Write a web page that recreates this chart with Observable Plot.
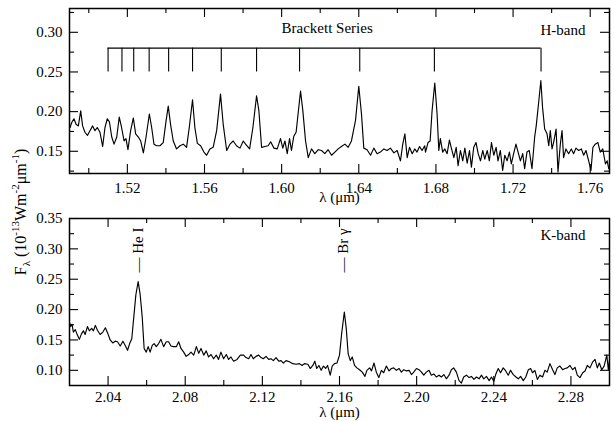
<!DOCTYPE html>
<html><head><meta charset="utf-8">
<script src="https://cdn.jsdelivr.net/npm/d3@7"></script>
<script src="https://cdn.jsdelivr.net/npm/@observablehq/plot@0.6"></script>
<style>
body{margin:0;background:#fff}
#wrap{position:relative;width:614px;height:421px;font-family:'Liberation Serif',serif;background:#fff}
#wrap svg{display:block}
#ylab{position:absolute;left:21px;top:212px;transform:translate(-50%,-50%) rotate(-90deg);white-space:nowrap;font-size:16px;line-height:1}
#ylab sup,#ylab sub{font-size:11px}
</style></head><body>
<div id="wrap"><div id="ylab">F<sub>λ</sub> (10<sup>-13</sup>Wm<sup>-2</sup>μm<sup>-1</sup>)</div></div>
<script>
// H-band spectrum [wavelength µm, flux]
const hSpectrum = [
[1.4903,0.180],[1.4911,0.186],[1.4923,0.191],[1.4934,0.184],[1.4946,0.182],[1.4958,0.201],[1.4968,0.182],[1.4980,0.174],[1.4993,0.170],[1.5006,0.176],
[1.5020,0.182],[1.5032,0.176],[1.5044,0.180],[1.5058,0.174],[1.5072,0.156],[1.5084,0.180],[1.5096,0.191],[1.5107,0.187],[1.5119,0.168],[1.5131,0.159],
[1.5145,0.168],[1.5158,0.193],[1.5170,0.180],[1.5183,0.163],[1.5193,0.166],[1.5203,0.152],[1.5217,0.176],[1.5231,0.192],[1.5243,0.172],[1.5257,0.168],
[1.5269,0.163],[1.5283,0.148],[1.5297,0.168],[1.5314,0.197],[1.5326,0.180],[1.5338,0.159],[1.5352,0.157],[1.5369,0.157],[1.5386,0.161],[1.5400,0.187],
[1.5412,0.207],[1.5424,0.184],[1.5438,0.163],[1.5455,0.153],[1.5473,0.157],[1.5490,0.159],[1.5507,0.155],[1.5521,0.180],[1.5538,0.215],[1.5550,0.180],
[1.5563,0.160],[1.5580,0.157],[1.5597,0.149],[1.5611,0.145],[1.5628,0.153],[1.5645,0.155],[1.5663,0.176],[1.5683,0.222],[1.5697,0.184],[1.5715,0.151],
[1.5732,0.159],[1.5749,0.163],[1.5766,0.157],[1.5784,0.154],[1.5801,0.163],
[1.5813,0.159],[1.5834,0.153],[1.5851,0.180],[1.5870,0.220],[1.5882,0.201],[1.5896,0.155],[1.5913,0.156],[1.5930,0.157],[1.5943,0.162],[1.5960,0.154],
[1.5977,0.153],[1.5994,0.166],[1.6006,0.154],[1.6017,0.163],[1.6029,0.147],[1.6041,0.166],[1.6051,0.151],[1.6063,0.169],[1.6075,0.174],[1.6098,0.226],
[1.6110,0.201],[1.6124,0.163],[1.6138,0.142],[1.6155,0.153],[1.6172,0.147],[1.6190,0.152],[1.6207,0.151],[1.6224,0.147],[1.6241,0.152],[1.6259,0.145],
[1.6276,0.149],[1.6293,0.153],[1.6310,0.156],[1.6328,0.159],[1.6345,0.155],[1.6362,0.163],[1.6383,0.189],[1.6400,0.232],[1.6414,0.197],[1.6426,0.154],
[1.6443,0.152],[1.6461,0.145],[1.6478,0.154],[1.6495,0.147],[1.6512,0.149],[1.6530,0.153],[1.6547,0.151],[1.6564,0.154],[1.6582,0.148],[1.6599,0.151],
[1.6616,0.138],[1.6628,0.159],[1.6639,0.172],[1.6651,0.142],[1.6663,0.155],[1.6677,0.147],[1.6690,0.153],[1.6702,0.149],[1.6715,0.156],[1.6728,0.151],
[1.6742,0.157],
[1.6746,0.149],[1.6759,0.161],[1.6770,0.163],[1.6780,0.201],[1.6794,0.236],[1.6806,0.197],[1.6815,0.151],[1.6823,0.166],[1.6835,0.149],[1.6846,0.153],
[1.6858,0.147],[1.6870,0.164],[1.6881,0.153],[1.6893,0.142],[1.6905,0.155],[1.6915,0.132],[1.6927,0.151],[1.6939,0.138],[1.6950,0.154],[1.6962,0.135],
[1.6974,0.151],[1.6984,0.130],[1.6996,0.155],[1.7008,0.161],[1.7019,0.147],[1.7031,0.138],[1.7043,0.151],[1.7053,0.140],[1.7066,0.151],[1.7077,0.138],
[1.7088,0.161],[1.7100,0.145],[1.7112,0.155],[1.7122,0.138],[1.7134,0.151],[1.7146,0.126],[1.7157,0.145],[1.7169,0.138],[1.7181,0.149],[1.7191,0.134],
[1.7203,0.147],[1.7215,0.159],[1.7226,0.149],[1.7238,0.138],[1.7250,0.147],[1.7260,0.128],[1.7272,0.149],[1.7284,0.151],[1.7298,0.128],[1.7312,0.168],
[1.7320,0.182],[1.7332,0.210],[1.7344,0.239],[1.7353,0.205],[1.7364,0.178],[1.7376,0.172],[1.7385,0.157],[1.7393,0.176],[1.7402,0.153],[1.7410,0.161],
[1.7423,0.178],[1.7433,0.124],[1.7445,0.159],[1.7454,0.176],[1.7462,0.142],[1.7474,0.153],[1.7488,0.147],[1.7502,0.153],[1.7514,0.147],[1.7526,0.154],
[1.7540,0.151],[1.7554,0.153],[1.7566,0.145],[1.7578,0.151],[1.7592,0.138],[1.7604,0.126],[1.7614,0.155],[1.7626,0.159],[1.7640,0.161],[1.7652,0.149],
[1.7665,0.153],[1.7679,0.134],[1.7688,0.138],[1.7696,0.128]
];

// K-band spectrum [wavelength µm, flux]
const kSpectrum = [
[2.0199,0.180],[2.0206,0.172],[2.0213,0.176],[2.0220,0.163],[2.0230,0.167],[2.0241,0.158],[2.0251,0.151],[2.0262,0.160],[2.0272,0.165],[2.0281,0.159],
[2.0293,0.172],[2.0303,0.165],[2.0315,0.169],[2.0324,0.165],[2.0334,0.174],[2.0345,0.166],[2.0359,0.159],[2.0373,0.163],[2.0386,0.170],[2.0397,0.162],
[2.0411,0.150],[2.0424,0.145],[2.0437,0.148],[2.0449,0.147],[2.0463,0.140],[2.0477,0.148],[2.0489,0.141],[2.0501,0.133],[2.0512,0.144],[2.0523,0.152],
[2.0532,0.183],[2.0544,0.224],[2.0556,0.246],[2.0566,0.226],[2.0577,0.188],[2.0587,0.136],[2.0598,0.130],[2.0608,0.139],[2.0618,0.130],[2.0629,0.141],
[2.0639,0.144],[2.0650,0.139],[2.0662,0.144],[2.0674,0.151],[2.0688,0.139],[2.0702,0.147],[2.0714,0.147],[2.0726,0.140],[2.0740,0.139],[2.0754,0.139],
[2.0766,0.147],[2.0778,0.136],[2.0792,0.130],[2.0805,0.123],[2.0818,0.126],[2.0830,0.130],[2.0844,0.125],[2.0858,0.139],[2.0870,0.128],[2.0882,0.136],
[2.0896,0.125],[2.0909,0.132],[2.0921,0.122],[2.0934,0.126],[2.0947,0.119],[2.0961,0.125],[2.0973,0.118],[2.0985,0.130],[2.0999,0.119],[2.1013,0.126],
[2.1025,0.118],[2.1037,0.122],[2.1051,0.115],[2.1069,0.118],[2.1086,0.125],[2.1103,0.125],
[2.1115,0.121],[2.1129,0.119],[2.1141,0.126],[2.1153,0.119],[2.1167,0.123],[2.1181,0.125],[2.1193,0.121],[2.1205,0.119],[2.1219,0.123],[2.1233,0.118],
[2.1245,0.119],[2.1257,0.116],[2.1271,0.121],[2.1285,0.115],[2.1297,0.116],[2.1309,0.112],[2.1323,0.116],[2.1340,0.114],[2.1358,0.111],[2.1375,0.110],
[2.1392,0.111],[2.1406,0.108],[2.1418,0.111],[2.1436,0.110],[2.1448,0.103],[2.1462,0.108],[2.1472,0.115],[2.1482,0.103],[2.1493,0.108],[2.1505,0.100],
[2.1517,0.107],[2.1528,0.103],[2.1538,0.108],[2.1552,0.092],[2.1562,0.107],[2.1574,0.111],[2.1587,0.112],[2.1600,0.125],[2.1611,0.160],[2.1625,0.196],
[2.1635,0.169],[2.1645,0.127],[2.1656,0.116],[2.1666,0.122],[2.1678,0.108],[2.1690,0.104],[2.1704,0.101],[2.1718,0.097],[2.1732,0.090],[2.1742,0.100],
[2.1756,0.104],[2.1766,0.099],[2.1779,0.112],[2.1791,0.097],[2.1804,0.088],[2.1817,0.100],[2.1829,0.096],[2.1843,0.107],[2.1857,0.099],[2.1869,0.103],
[2.1881,0.104],[2.1895,0.100],[2.1909,0.103],[2.1921,0.097],[2.1933,0.101],[2.1947,0.099],[2.1961,0.100],[2.1973,0.093],[2.1985,0.097],[2.1999,0.103],
[2.2012,0.101],[2.2025,0.097],[2.2037,0.092],
[2.2050,0.097],[2.2064,0.100],[2.2076,0.092],[2.2089,0.094],[2.2102,0.089],[2.2116,0.092],[2.2128,0.089],[2.2141,0.093],[2.2154,0.086],[2.2168,0.092],
[2.2180,0.101],[2.2192,0.104],[2.2206,0.097],[2.2220,0.083],[2.2232,0.079],[2.2244,0.089],[2.2258,0.092],[2.2272,0.088],[2.2284,0.090],[2.2297,0.085],
[2.2310,0.089],[2.2324,0.086],[2.2336,0.092],[2.2348,0.086],[2.2362,0.090],[2.2376,0.083],[2.2388,0.089],[2.2400,0.082],[2.2411,0.094],[2.2423,0.103],
[2.2435,0.096],[2.2449,0.104],[2.2462,0.099],[2.2475,0.092],[2.2487,0.100],[2.2501,0.093],[2.2515,0.089],[2.2527,0.086],[2.2539,0.090],[2.2553,0.083],
[2.2566,0.089],[2.2579,0.101],[2.2591,0.103],[2.2601,0.096],[2.2613,0.100],[2.2626,0.085],[2.2639,0.092],[2.2653,0.089],[2.2665,0.100],[2.2677,0.097],
[2.2691,0.111],[2.2705,0.101],[2.2717,0.093],[2.2729,0.104],[2.2743,0.107],[2.2757,0.101],[2.2769,0.103],[2.2781,0.104],[2.2795,0.108],[2.2809,0.101],
[2.2821,0.105],[2.2833,0.092],[2.2847,0.088],[2.2861,0.096],[2.2873,0.099],[2.2885,0.108],[2.2899,0.104],[2.2913,0.114],[2.2925,0.118],[2.2937,0.104],
[2.2947,0.112],[2.2960,0.101],[2.2972,0.107],[2.2986,0.125],[2.2994,0.101],[2.3003,0.125]
];

// Brackett series line positions (µm) and ladder levels
const brackettWaves = [1.5100,1.5172,1.5233,1.5313,1.5414,1.5538,1.5687,1.5870,1.6093,1.6405,1.6792,1.7345];
const brackettLevels = [0.25, 0.28];
const brackettTitle = {text: "Brackett Series", x: 1.6236, y: 0.305};

// K-band line identifications
const kLineWaves = [2.0556, 2.1617];
const kLineNames = ["— He I", "— Br γ"];

// axes
const hXDomain = [1.49, 1.77], hYDomain = [0.122, 0.33];
const kXDomain = [2.02, 2.30], kYDomain = [0.075, 0.35];
const hXMajor = [1.52,1.56,1.60,1.64,1.68,1.72,1.76];
const hXMinor = [1.50,1.54,1.58,1.62,1.66,1.70,1.74];
const hYMajor = [0.15,0.20,0.25,0.30];
const hYMinor = [0.125,0.175,0.225,0.275,0.325];
const kXMajor = [2.04,2.08,2.12,2.16,2.20,2.24,2.28];
const kXMinor = [2.06,2.10,2.14,2.18,2.22,2.26];
const kYMajor = [0.10,0.15,0.20,0.25,0.30,0.35];
const kYMinor = [0.125,0.175,0.225,0.275,0.325];
const xLabel = "λ (μm)";
const hBandLabel = "H-band", kBandLabel = "K-band";

const W = 614, mL = 69, mR = 5, mT = 8, FS = 15;
const FONT = "'Liberation Serif', 'Times New Roman', serif";
const fontStyle = {fontFamily: FONT, fontSize: FS + "px", background: "white", overflow: "visible"};

function ticks(iw, ih, xMaj, xMin, yMaj, yMin) {
  const M = 9, m = 5, sw = 1.1;
  const out = [];
  for (const [vals, len] of [[xMaj, M], [xMin, m]]) {
    out.push(Plot.tickX(vals, {x: d => d, insetTop: ih - len, stroke: "black", strokeWidth: sw}));
    out.push(Plot.tickX(vals, {x: d => d, insetBottom: ih - len, stroke: "black", strokeWidth: sw}));
  }
  for (const [vals, len] of [[yMaj, M], [yMin, m]]) {
    out.push(Plot.tickY(vals, {y: d => d, insetRight: iw - len, stroke: "black", strokeWidth: sw}));
    out.push(Plot.tickY(vals, {y: d => d, insetLeft: iw - len, stroke: "black", strokeWidth: sw}));
  }
  return out;
}

function panel({spec, xDomain, yDomain, xMaj, xMin, yMaj, yMin, height, mB, xPad, labelDy, band, bandDy, extra}) {
  const iw = W - mL - mR, ih = height - mT - mB;
  return Plot.plot({
    width: W, height, marginLeft: mL, marginRight: mR, marginTop: mT, marginBottom: mB,
    style: fontStyle,
    x: {domain: xDomain}, y: {domain: yDomain},
    marks: [
      Plot.line(spec, {x: d => d[0], y: d => d[1], stroke: "black", strokeWidth: 1.15, clip: true}),
      ...extra,
      ...ticks(iw, ih, xMaj, xMin, yMaj, yMin),
      Plot.axisX(xMaj, {tickSize: 0, tickPadding: xPad, tickFormat: d3.format(".2f"), label: null, fontSize: FS, fontFamily: FONT}),
      Plot.axisY(yMaj, {tickSize: 0, tickPadding: 7, tickFormat: d3.format(".2f"), label: null, fontSize: FS, fontFamily: FONT}),
      Plot.text([xLabel], {text: d => d, frameAnchor: "bottom", dy: labelDy, fontSize: FS, fontFamily: FONT, lineAnchor: "middle"}),
      Plot.text([band], {text: d => d, frameAnchor: "top-right", dx: -24, dy: bandDy, textAnchor: "end", fontSize: FS, fontFamily: FONT, lineAnchor: "middle"}),
      Plot.frame({stroke: "black", strokeWidth: 1.5})
    ]
  });
}

const hExtra = [
  Plot.ruleX(brackettWaves, {x: d => d, y1: brackettLevels[0], y2: brackettLevels[1], stroke: "black", strokeWidth: 1.1}),
  Plot.ruleY([brackettLevels[1]], {x1: brackettWaves[0], x2: brackettWaves[brackettWaves.length - 1], stroke: "black", strokeWidth: 1.1}),
  Plot.text([brackettTitle], {x: "x", y: "y", text: "text", fontSize: FS, fontFamily: FONT, lineAnchor: "middle"})
];
const kExtra = [
  Plot.text(kLineWaves, {x: d => d, text: (d, i) => kLineNames[i], frameAnchor: "top", dy: 54, rotate: -90, textAnchor: "start", fontSize: FS, fontFamily: FONT, lineAnchor: "middle", fill: "black"})
];

const topPlot = panel({spec: hSpectrum, xDomain: hXDomain, yDomain: hYDomain, xMaj: hXMajor, xMin: hXMinor, yMaj: hYMajor, yMin: hYMinor,
  height: 210, mB: 37, xPad: 9, labelDy: 24, band: hBandLabel, bandDy: 22, extra: hExtra});
const botPlot = panel({spec: kSpectrum, xDomain: kXDomain, yDomain: kYDomain, xMaj: kXMajor, xMin: kXMinor, yMaj: kYMajor, yMin: kYMinor,
  height: 211, mB: 36, xPad: 6, labelDy: 27, band: kBandLabel, bandDy: 17, extra: kExtra});

const wrap = document.getElementById("wrap");
wrap.insertBefore(botPlot, wrap.firstChild);
wrap.insertBefore(topPlot, botPlot);
</script>
</body></html>
